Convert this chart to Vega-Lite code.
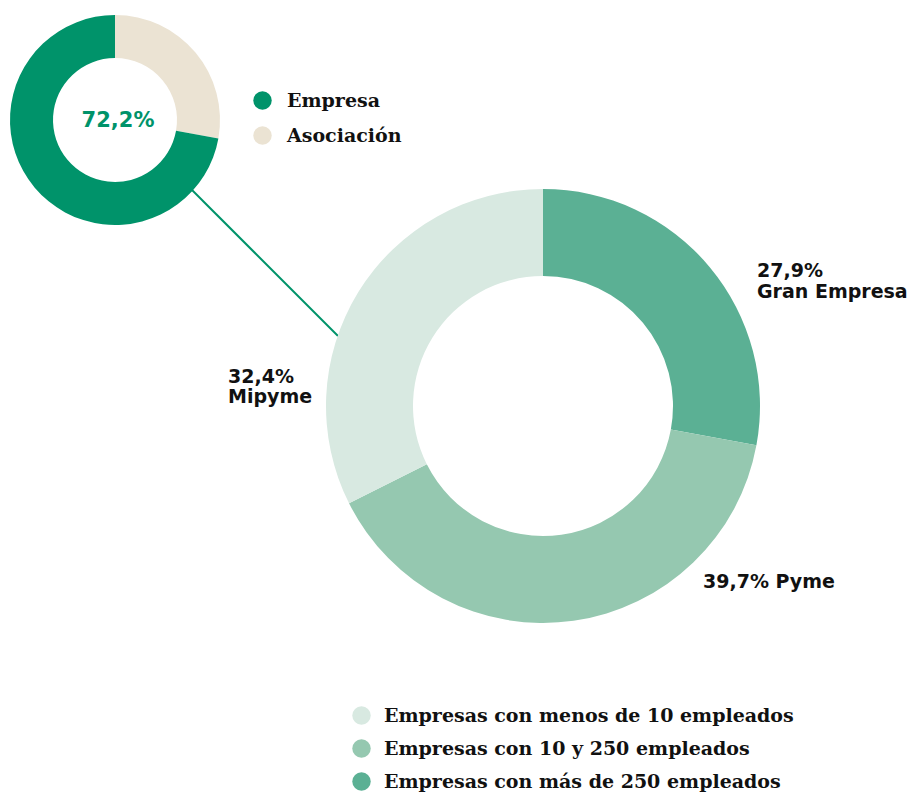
{
  "$schema": "https://vega.github.io/schema/vega-lite/v6.json",
  "width": 914,
  "height": 792,
  "autosize": {"type": "none"},
  "padding": 0,
  "background": "white",
  "config": {"view": {"stroke": null}},
  "datasets": {
    "total": [
      {"tipo": "Asociación", "pct": 27.8, "orden": 1, "label": ""},
      {"tipo": "Empresa", "pct": 72.2, "orden": 2, "label": "72,2%"}
    ],
    "empresas": [
      {"tipo": "Empresas con más de 250 empleados", "pct": 27.9, "orden": 1, "label": "27,9%\nGran Empresa"},
      {"tipo": "Empresas con 10 y 250 empleados", "pct": 39.7, "orden": 2, "label": "39,7% Pyme"},
      {"tipo": "Empresas con menos de 10 empleados", "pct": 32.4, "orden": 3, "label": "32,4%\nMipyme"}
    ]
  },
  "layer": [
    {
      "data": {"values": [{}]},
      "mark": {"type": "rule", "stroke": "#00936A", "strokeWidth": 2},
      "encoding": {
        "x": {"value": 192}, "y": {"value": 190},
        "x2": {"value": 338}, "y2": {"value": 336}
      }
    },
    {
      "data": {"name": "total"},
      "mark": {"type": "arc", "x": 115, "y": 120, "radius": 105, "radius2": 62},
      "encoding": {
        "theta": {"field": "pct", "type": "quantitative", "stack": true, "scale": {"domain": [0, 100]}},
        "order": {"field": "orden", "type": "quantitative"},
        "color": {
          "field": "tipo", "type": "nominal",
          "scale": {"domain": ["Empresa", "Asociación"], "range": ["#00936A", "#EBE3D3"]},
          "legend": {
            "title": null, "orient": "none", "legendX": 253, "legendY": 91,
            "symbolType": "circle", "symbolSize": 340, "symbolStrokeWidth": 0,
            "labelFont": "DejaVu Serif", "labelFontWeight": "bold", "labelFontSize": 19,
            "labelColor": "#111111", "labelOffset": 15, "rowPadding": 15, "padding": 0
          }
        }
      }
    },
    {
      "data": {"name": "empresas"},
      "mark": {"type": "arc", "x": 543, "y": 406, "radius": 217, "radius2": 130},
      "encoding": {
        "theta": {"field": "pct", "type": "quantitative", "stack": true, "scale": {"domain": [0, 100]}},
        "order": {"field": "orden", "type": "quantitative"},
        "color": {
          "field": "tipo", "type": "nominal",
          "scale": {
            "domain": ["Empresas con menos de 10 empleados", "Empresas con 10 y 250 empleados", "Empresas con más de 250 empleados"],
            "range": ["#D8E9E1", "#95C8B0", "#5BB094"]
          },
          "legend": {
            "title": null, "orient": "none", "legendX": 352, "legendY": 706,
            "symbolType": "circle", "symbolSize": 340, "symbolStrokeWidth": 0,
            "labelFont": "DejaVu Serif", "labelFontWeight": "bold", "labelFontSize": 19,
            "labelColor": "#111111", "labelOffset": 13, "rowPadding": 13, "padding": 0, "labelLimit": 600
          }
        }
      }
    },
    {
      "data": {"name": "total"},
      "transform": [{"filter": "datum.tipo == 'Empresa'"}],
      "mark": {"type": "text", "x": 118, "y": 127, "align": "center", "baseline": "alphabetic", "font": "DejaVu Sans", "fontWeight": "bold", "fontSize": 21, "color": "#00936A"},
      "encoding": {"text": {"field": "label"}}
    },
    {
      "data": {"name": "empresas"},
      "transform": [{"filter": "datum.orden == 1"}],
      "mark": {"type": "text", "x": 757, "y": 277, "align": "left", "baseline": "alphabetic", "lineBreak": "\n", "lineHeight": 21, "font": "DejaVu Sans", "fontWeight": "bold", "fontSize": 19, "color": "#111111"},
      "encoding": {"text": {"field": "label"}}
    },
    {
      "data": {"name": "empresas"},
      "transform": [{"filter": "datum.orden == 2"}],
      "mark": {"type": "text", "x": 703, "y": 588, "align": "left", "baseline": "alphabetic", "font": "DejaVu Sans", "fontWeight": "bold", "fontSize": 19, "color": "#111111"},
      "encoding": {"text": {"field": "label"}}
    },
    {
      "data": {"name": "empresas"},
      "transform": [{"filter": "datum.orden == 3"}],
      "mark": {"type": "text", "x": 228, "y": 383, "align": "left", "baseline": "alphabetic", "lineBreak": "\n", "lineHeight": 20, "font": "DejaVu Sans", "fontWeight": "bold", "fontSize": 19, "color": "#111111"},
      "encoding": {"text": {"field": "label"}}
    }
  ],
  "resolve": {"scale": {"color": "independent", "theta": "independent"}, "legend": {"color": "independent"}}
}
